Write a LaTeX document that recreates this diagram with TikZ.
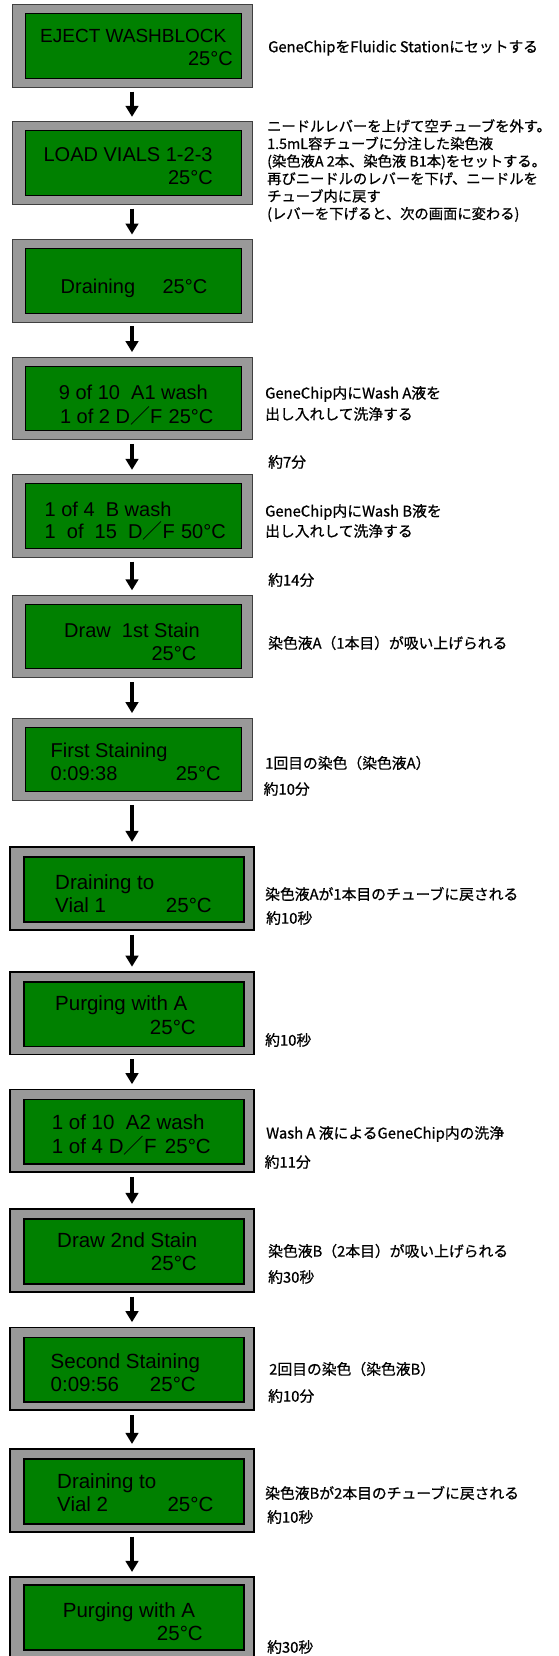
\documentclass[tikz,border=0pt]{standalone}
\usepackage{fontspec}
\setmainfont{Liberation Sans}
\newfontfamily\jp[FakeBold=0.8]{Noto Sans CJK JP}
\newfontfamily\jpthin{Noto Sans CJK JP}
\usetikzlibrary{arrows.meta}
\definecolor{panelgray}{HTML}{999999}
\definecolor{lcdgreen}{HTML}{008000}
\newcommand{\slsh}{{\jpthin ／}}

\begin{document}
\begin{tikzpicture}[x=1pt,y=-1pt,
	panel/.style={rectangle, fill=panelgray, draw=black!75, line width=0.8pt, minimum width=240pt, minimum height=82.5pt, inner sep=0pt},
	panelb/.style={panel, draw=black, line width=1.6pt, minimum width=243.5pt},
	screen/.style={rectangle, fill=lcdgreen, draw=black, line width=0.8pt, minimum width=215.8pt, minimum height=64.5pt, inner sep=0pt},
	screenb/.style={screen, line width=1.6pt, minimum width=219.7pt},
	lcd/.style={inner sep=0pt, font=\fontsize{20}{24}\selectfont},
	lcdb/.style={inner sep=0pt, font=\fontsize{20.5}{24}\selectfont},
	note/.style={inner sep=0pt, anchor=west, align=left, font=\jp\fontsize{14.8}{17.5}\selectfont},
	flow/.style={-{Triangle[width=12.5pt,length=11pt]}, line width=3.5pt, shorten <=4pt, shorten >=4.5pt}]
			\useasboundingbox (0,0) rectangle (558,1656);

			% display panels
			\node[panel] (s1) at (132,46) {};
			\node[screen] (s1i) at (133.5,46) {};
			\node[panel] (s2) at (132,163) {};
			\node[screen] (s2i) at (133.5,163) {};
			\node[panel] (s3) at (132,280.75) {};
			\node[screen] (s3i) at (133.5,280.75) {};
			\node[panel] (s4) at (132,398.25) {};
			\node[screen] (s4i) at (133.5,398.25) {};
			\node[panel] (s5) at (132,516) {};
			\node[screen] (s5i) at (133.5,516) {};
			\node[panel] (s6) at (132,636.5) {};
			\node[screen] (s6i) at (133.5,636.5) {};
			\node[panel] (s7) at (132,759.25) {};
			\node[screen] (s7i) at (133.5,759.25) {};
			\node[panelb] (s8) at (132,888.5) {};
			\node[screenb] (s8i) at (134,889.5) {};
			\node[panelb] (s9) at (132,1013.25) {};
			\node[screenb] (s9i) at (134,1014.25) {};
			\node[panelb] (s10) at (132,1130.75) {};
			\node[screenb] (s10i) at (134,1131.75) {};
			\node[panelb] (s11) at (132,1250.5) {};
			\node[screenb] (s11i) at (134,1251.5) {};
			\node[panelb] (s12) at (132,1368.75) {};
			\node[screenb] (s12i) at (134,1369.75) {};
			\node[panelb] (s13) at (132,1490.5) {};
			\node[screenb] (s13i) at (134,1491.5) {};
			\node[panelb] (s14) at (132,1618.5) {};
			\node[screenb] (s14i) at (134,1617.5) {};

			% display texts
			\node[lcd, anchor=base west, font=\fontsize{19}{23}\selectfont] (t1a) at (40,43) {EJECT WASHBLOCK};
			\node[lcd, anchor=base east] (t1b) at (233,66) {25°C};
			\node[lcd, anchor=base west] (t2a) at (43.4,162) {LOAD VIALS 1-2-3};
			\node[lcd, anchor=base east] (t2b) at (213,185) {25°C};
			\node[lcd, anchor=base west] (t3a) at (60.5,293) {Draining};
			\node[lcd, anchor=base east] (t3b) at (207.5,293) {25°C};
			\node[lcd, anchor=base west] (t4a) at (58.7,399) {9 of 10~ A1 wash};
			\node[lcd, anchor=base west] (t4b) at (59.8,423) {1 of 2 D\slsh F};
			\node[lcd, anchor=base east] (t4c) at (213.6,423) {25°C};
			\node[lcd, anchor=base west] (t5a) at (44.5,516) {1 of 4~ B wash};
			\node[lcd, anchor=base west] (t5b) at (44.5,538) {1~ of~ 15~ D\slsh F};
			\node[lcd, anchor=base east] (t5c) at (226,538) {50°C};
			\node[lcd, anchor=base west] (t6a) at (64,637) {Draw~ 1st Stain};
			\node[lcd, anchor=base east] (t6b) at (196.5,660) {25°C};
			\node[lcd, anchor=base west] (t7a) at (50.5,757) {First Staining};
			\node[lcd, anchor=base west] (t7b) at (50.5,780) {0:09:38};
			\node[lcd, anchor=base east] (t7c) at (220.7,780) {25°C};
			\node[lcdb, anchor=base west] (t8a) at (55,889) {Draining to};
			\node[lcdb, anchor=base west] (t8b) at (55,912) {Vial 1};
			\node[lcdb, anchor=base east] (t8c) at (212,912) {25°C};
			\node[lcdb, anchor=base west] (t9a) at (55,1010) {Purging with A};
			\node[lcdb, anchor=base east] (t9b) at (196,1034) {25°C};
			\node[lcdb, anchor=base west] (t10a) at (51.6,1129) {1 of 10~ A2 wash};
			\node[lcdb, anchor=base west] (t10b) at (51.6,1153) {1 of 4 D\slsh F};
			\node[lcdb, anchor=base east] (t10c) at (211,1153) {25°C};
			\node[lcdb, anchor=base west] (t11a) at (57,1247) {Draw 2nd Stain};
			\node[lcdb, anchor=base east] (t11b) at (197,1270) {25°C};
			\node[lcdb, anchor=base west] (t12a) at (50.5,1368) {Second Staining};
			\node[lcdb, anchor=base west] (t12b) at (50.5,1391) {0:09:56};
			\node[lcdb, anchor=base east] (t12c) at (196,1391) {25°C};
			\node[lcdb, anchor=base west] (t13a) at (57,1488) {Draining to};
			\node[lcdb, anchor=base west] (t13b) at (57,1511) {Vial 2};
			\node[lcdb, anchor=base east] (t13c) at (213.6,1511) {25°C};
			\node[lcdb, anchor=base west] (t14a) at (62.7,1617) {Purging with A};
			\node[lcdb, anchor=base east] (t14b) at (203,1640) {25°C};

			% notes on the right
			\node[note] (n1) at (268,48) {GeneChipをFluidic Stationにセットする};
			\node[note, font=\jp\fontsize{14.3}{17.5}\selectfont] (n2) at (267,170.5) {ニードルレバーを上げて空チューブを外す。\\1.5mL容チューブに分注した染色液\\(染色液A 2本、染色液 B1本)をセットする。\\再びニードルのレバーを下げ、ニードルを\\チューブ内に戻す\\(レバーを下げると、次の画面に変わる)};
			\node[note] (n3a) at (265,394) {GeneChip内にWash A液を};
			\node[note] (n3b) at (265,414) {出し入れして洗浄する};
			\node[note] (n4) at (268,462) {約7分};
			\node[note] (n5a) at (265,512) {GeneChip内にWash B液を};
			\node[note] (n5b) at (265,531) {出し入れして洗浄する};
			\node[note] (n6) at (268,580) {約14分};
			\node[note] (n7) at (268,643) {染色液A（1本目）が吸い上げられる};
			\node[note] (n8) at (265,763) {1回目の染色（染色液A）};
			\node[note] (n9) at (263.5,789) {約10分};
			\node[note] (n10) at (265,894) {染色液Aが1本目のチューブに戻される};
			\node[note] (n11) at (266,918) {約10秒};
			\node[note] (n12) at (265,1040) {約10秒};
			\node[note] (n13) at (266,1134) {Wash A 液によるGeneChip内の洗浄};
			\node[note] (n14) at (264.5,1162) {約11分};
			\node[note] (n15) at (268,1251) {染色液B（2本目）が吸い上げられる};
			\node[note] (n16) at (268,1277) {約30秒};
			\node[note] (n17) at (269,1369) {2回目の染色（染色液B）};
			\node[note] (n18) at (268,1396) {約10分};
			\node[note] (n19) at (265,1493) {染色液Bが2本目のチューブに戻される};
			\node[note] (n20) at (267,1517) {約10秒};
			\node[note] (n21) at (267,1647) {約30秒};

			\draw [flow] (s1) to (s2);
			\draw [flow] (s2) to (s3);
			\draw [flow] (s3) to (s4);
			\draw [flow] (s4) to (s5);
			\draw [flow] (s5) to (s6);
			\draw [flow] (s6) to (s7);
			\draw [flow] (s7) to (s8);
			\draw [flow] (s8) to (s9);
			\draw [flow] (s9) to (s10);
			\draw [flow] (s10) to (s11);
			\draw [flow] (s11) to (s12);
			\draw [flow] (s12) to (s13);
			\draw [flow] (s13) to (s14);
		\end{tikzpicture}
\end{document}
